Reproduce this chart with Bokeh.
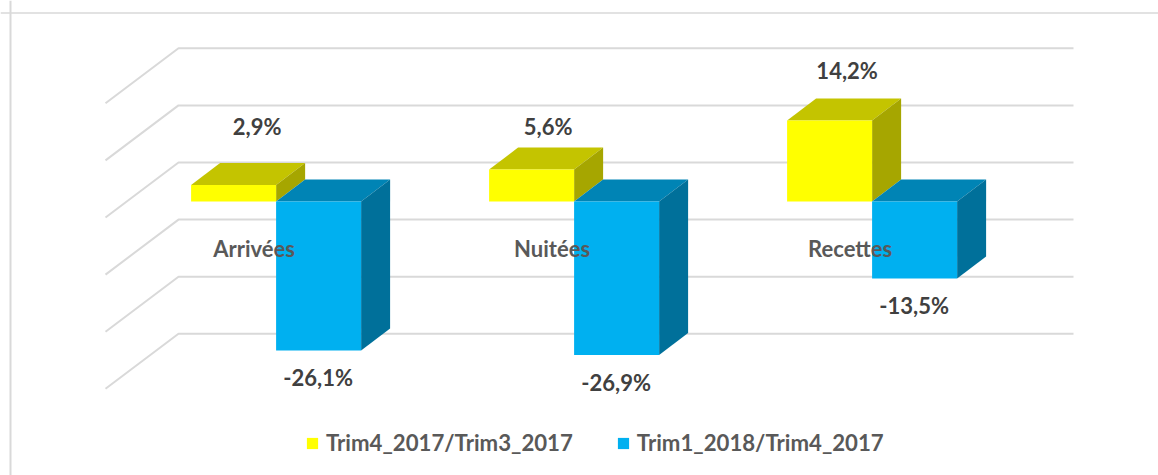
from bokeh.plotting import figure
from bokeh.models import Range1d, Span, Legend, LegendItem, ColumnDataSource
from bokeh.core.properties import value
from bokeh.embed import file_html
from bokeh.resources import INLINE

# ---- data -------------------------------------------------------------
categories = ["Arrivées", "Nuitées", "Recettes"]
series_names = ["Trim4_2017/Trim3_2017", "Trim1_2018/Trim4_2017"]
trim4_values = [2.9, 5.6, 14.2]
trim1_values = [-26.1, -26.9, -13.5]
trim4_labels = ["2,9%", "5,6%", "14,2%"]
trim1_labels = ["-26,1%", "-26,9%", "-13,5%"]
grid_values = [20, 10, 0, -10, -20, -30]

# ---- layout -----------------------------------------------------------
W, H = 1158, 475
PX_PER_CAT = 298.0       # horizontal pixels per category
PX_PER_PCT = 5.71        # vertical pixels per percentage point
X0_PAGE = 275.6          # x of category 0 centre
Y0_PAGE = 201.0          # y of value 0 on the bars' front plane
BAR_W = 85.0 / PX_PER_CAT
DEPTH_X = 29.0 / PX_PER_CAT
DEPTH_Y = 22.0 / PX_PER_PCT
WALL_L = (178.0 - X0_PAGE) / PX_PER_CAT
WALL_R = (1073.0 - X0_PAGE) / PX_PER_CAT
WALL_DY = 39.0 / PX_PER_PCT   # wall zero sits above the bars' zero
SIDE_DX = 73.0 / PX_PER_CAT
SIDE_DY = 55.0 / PX_PER_PCT

def xd(px):
    return (px - X0_PAGE) / PX_PER_CAT

def yd(py):
    return (Y0_PAGE - py) / PX_PER_PCT

p = figure(width=W, height=H, output_backend="svg", toolbar_location=None,
           x_range=Range1d(xd(0), xd(W)), y_range=Range1d(yd(H), yd(0)),
           min_border=0, outline_line_color=None, background_fill_color="white",
           border_fill_color="white")
p.xaxis.visible = False
p.yaxis.visible = False
p.grid.visible = False

# chart border (top and left only reach this picture)
border = "#D9D9D9"
p.add_layout(Span(location=yd(12.5), dimension="width", line_color=border, line_width=1.5))
p.add_layout(Span(location=xd(10), dimension="height", line_color=border, line_width=2))

# back wall and side wall gridlines
grid_color = "#D9D9D9"
for v in grid_values:
    yb = v + WALL_DY
    p.line([WALL_L - SIDE_DX, WALL_L, WALL_R], [yb - SIDE_DY, yb, yb],
           line_color=grid_color, line_width=2)


def draw_bars(vals, left_offset, front, top, side):
    f_xs, f_ys, t_xs, t_ys, s_xs, s_ys = [], [], [], [], [], []
    for i, v in enumerate(vals):
        l = i + left_offset
        r = l + BAR_W
        hi, lo = max(v, 0), min(v, 0)
        f_xs.append([l, r, r, l]); f_ys.append([lo, lo, hi, hi])
        t_xs.append([l, r, r + DEPTH_X, l + DEPTH_X])
        t_ys.append([hi, hi, hi + DEPTH_Y, hi + DEPTH_Y])
        s_xs.append([r, r + DEPTH_X, r + DEPTH_X, r])
        s_ys.append([lo, lo + DEPTH_Y, hi + DEPTH_Y, hi])
    p.patches(t_xs, t_ys, fill_color=top, line_color=None)
    p.patches(s_xs, s_ys, fill_color=side, line_color=None)
    return p.patches(f_xs, f_ys, fill_color=front, line_color=None)


r_yellow = draw_bars(trim4_values, -BAR_W, "#FFFF00", "#C4C400", "#A6A600")
r_blue = draw_bars(trim1_values, 0.0, "#00B0F0", "#0084B5", "#00709A")

# text
FONT = value("Lato")
idx = list(range(len(categories)))

def labels(x, y, text, color, xoff, yoff, size="22px"):
    src = ColumnDataSource(dict(x=x, y=y, t=text, xo=xoff, yo=yoff))
    p.text("x", "y", text="t", source=src, x_offset="xo", y_offset="yo",
           text_font=FONT, text_font_style="bold", text_font_size=value(size),
           text_color=color, text_align="center", text_baseline="middle")

labels(idx, trim4_values, trim4_labels, "#404040", [-19, -26, -25], [-58, -43, -50])
labels(idx, trim1_values, trim1_labels, "#404040", [42, 42, 42], [27, 27, 27])
labels(idx, [0, 0, 0], categories, "#595959", [-22, -22, -22], [47, 47, 47])

legend = Legend(items=[LegendItem(label=series_names[0], renderers=[r_yellow]),
                       LegendItem(label=series_names[1], renderers=[r_blue])],
                orientation="horizontal", location=(305, 19),
                border_line_color=None, background_fill_alpha=0,
                label_text_font="Lato", label_text_font_style="bold",
                label_text_font_size="22.2px", label_text_color="#595959",
                glyph_width=14, glyph_height=14, label_standoff=7, spacing=43,
                padding=4, margin=0)
p.add_layout(legend)

open("out.html", "w").write(file_html(p, INLINE))
